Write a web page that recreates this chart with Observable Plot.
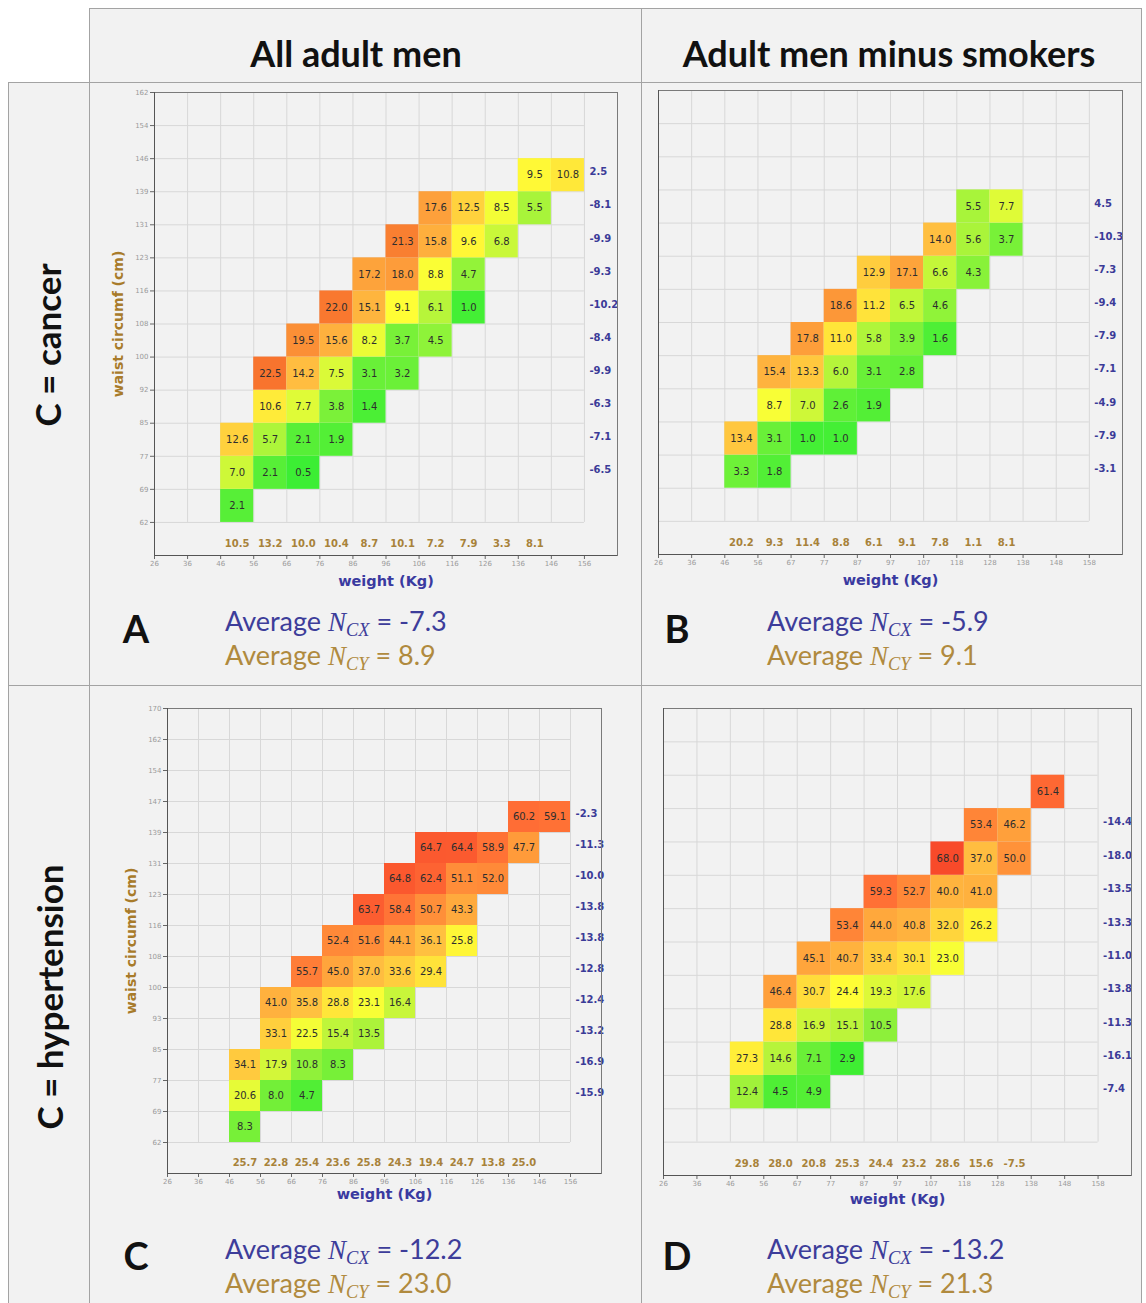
<!DOCTYPE html>
<html><head><meta charset="utf-8">
<script src="https://cdn.jsdelivr.net/npm/d3@7"></script>
<script src="https://cdn.jsdelivr.net/npm/@observablehq/plot@0.6"></script>
<style>
body{margin:0;background:#fff;}
#page{position:relative;width:1146px;height:1303px;overflow:hidden;font-family:Lato,"Open Sans",sans-serif;}
.cell{position:absolute;background:#f2f2f2;border:1px solid #a3a3a3;box-sizing:border-box;}
.lbl{position:absolute;white-space:nowrap;line-height:1;}
.plot{position:absolute;}
.N{font-family:"Liberation Serif","DejaVu Serif",serif;font-style:italic;}
.N sub{font-size:0.68em;vertical-align:-0.28em;}
</style></head><body><div id="page"></div>
<script>
// ---------- data ----------
const colTitles = ["All adult men", "Adult men minus smokers"];
const rowTitles = ["C = cancer", "C = hypertension"];
const panelLetters = ["A", "B", "C", "D"];
const avgNcx = ["-7.3", "-5.9", "-12.2", "-13.2"];
const avgNcy = ["8.9", "9.1", "23.0", "21.3"];

const xLabelsA = ["26","36","46","56","66","76","86","96","106","116","126","136","146","156"];
const yLabelsA = ["62","69","77","85","92","100","108","116","123","131","139","146","154","162"];
const xLabelsB = ["26","36","46","56","67","77","87","97","107","118","128","138","148","158"];
const xLabelsC = ["26","36","46","56","66","76","86","96","106","116","126","136","146","156"];
const yLabelsC = ["62","69","77","85","93","100","108","116","123","131","139","147","154","162","170"];
const xLabelsD = ["26","36","46","56","67","77","87","97","107","118","128","138","148","158"];

// each row: [waist bin index, first weight bin index, values]
const cellsA = [
  [0, 2, [2.1]],
  [1, 2, [7.0, 2.1, 0.5]],
  [2, 2, [12.6, 5.7, 2.1, 1.9]],
  [3, 3, [10.6, 7.7, 3.8, 1.4]],
  [4, 3, [22.5, 14.2, 7.5, 3.1, 3.2]],
  [5, 4, [19.5, 15.6, 8.2, 3.7, 4.5]],
  [6, 5, [22.0, 15.1, 9.1, 6.1, 1.0]],
  [7, 6, [17.2, 18.0, 8.8, 4.7]],
  [8, 7, [21.3, 15.8, 9.6, 6.8]],
  [9, 8, [17.6, 12.5, 8.5, 5.5]],
  [10, 11, [9.5, 10.8]]
];
const ncxA = [null, -6.5, -7.1, -6.3, -9.9, -8.4, -10.2, -9.3, -9.9, -8.1, 2.5];
const ncyA = [null, null, 10.5, 13.2, 10.0, 10.4, 8.7, 10.1, 7.2, 7.9, 3.3, 8.1];

const cellsB = [
  [1, 2, [3.3, 1.8]],
  [2, 2, [13.4, 3.1, 1.0, 1.0]],
  [3, 3, [8.7, 7.0, 2.6, 1.9]],
  [4, 3, [15.4, 13.3, 6.0, 3.1, 2.8]],
  [5, 4, [17.8, 11.0, 5.8, 3.9, 1.6]],
  [6, 5, [18.6, 11.2, 6.5, 4.6]],
  [7, 6, [12.9, 17.1, 6.6, 4.3]],
  [8, 8, [14.0, 5.6, 3.7]],
  [9, 9, [5.5, 7.7]]
];
const ncxB = [null, -3.1, -7.9, -4.9, -7.1, -7.9, -9.4, -7.3, -10.3, 4.5];
const ncyB = [null, null, 20.2, 9.3, 11.4, 8.8, 6.1, 9.1, 7.8, 1.1, 8.1];

const cellsC = [
  [0, 2, [8.3]],
  [1, 2, [20.6, 8.0, 4.7]],
  [2, 2, [34.1, 17.9, 10.8, 8.3]],
  [3, 3, [33.1, 22.5, 15.4, 13.5]],
  [4, 3, [41.0, 35.8, 28.8, 23.1, 16.4]],
  [5, 4, [55.7, 45.0, 37.0, 33.6, 29.4]],
  [6, 5, [52.4, 51.6, 44.1, 36.1, 25.8]],
  [7, 6, [63.7, 58.4, 50.7, 43.3]],
  [8, 7, [64.8, 62.4, 51.1, 52.0]],
  [9, 8, [64.7, 64.4, 58.9, 47.7]],
  [10, 11, [60.2, 59.1]]
];
const ncxC = [null, -15.9, -16.9, -13.2, -12.4, -12.8, -13.8, -13.8, -10.0, -11.3, -2.3];
const ncyC = [null, null, 25.7, 22.8, 25.4, 23.6, 25.8, 24.3, 19.4, 24.7, 13.8, 25.0];

const cellsD = [
  [1, 2, [12.4, 4.5, 4.9]],
  [2, 2, [27.3, 14.6, 7.1, 2.9]],
  [3, 3, [28.8, 16.9, 15.1, 10.5]],
  [4, 3, [46.4, 30.7, 24.4, 19.3, 17.6]],
  [5, 4, [45.1, 40.7, 33.4, 30.1, 23.0]],
  [6, 5, [53.4, 44.0, 40.8, 32.0, 26.2]],
  [7, 6, [59.3, 52.7, 40.0, 41.0]],
  [8, 8, [68.0, 37.0, 50.0]],
  [9, 9, [53.4, 46.2]],
  [10, 11, [61.4]]
];
const ncxD = [null, -7.4, -16.1, -11.3, -13.8, -11.0, -13.3, -13.5, -18.0, -14.4];
const ncyD = [null, null, 29.8, 28.0, 20.8, 25.3, 24.4, 23.2, 28.6, 15.6, -7.5];

// colour ramps (green -> yellow -> red)
const cancerDomain = [0, 3, 6, 9, 14, 18, 22.5];
const hyperDomain = [3, 10, 16, 24, 36, 45, 52, 60, 68];
const cancerRange = ["#33ee33", "#66f038", "#b5f53a", "#ffff35", "#ffbf40", "#fd9c3a", "#f8742e"];
const hyperRange = ["#40ee33", "#88f03a", "#c5f53a", "#ffff35", "#ffc040", "#ffa53c", "#ff8a38", "#ff6e35", "#f84a2a"];

// ---------- layout ----------
const page = document.getElementById("page");
function box(l, t, w, h) {
  const d = document.createElement("div");
  d.className = "cell";
  Object.assign(d.style, {left: l + "px", top: t + "px", width: w + "px", height: h + "px"});
  page.appendChild(d);
}
box(89, 8, 553, 75); box(641, 8, 501, 75);
box(8, 82, 82, 604); box(8, 685, 82, 630);
box(89, 82, 553, 604); box(641, 82, 501, 604);
box(89, 685, 553, 630); box(641, 685, 501, 630);

function label(html, x, y, style, transform) {
  const d = document.createElement("div");
  d.className = "lbl";
  d.innerHTML = html;
  Object.assign(d.style, {left: x + "px", top: y + "px"}, style);
  d.style.transform = transform;
  page.appendChild(d);
  return d;
}
const titleStyle = {fontSize: "36px", fontWeight: "bold", color: "#111"};
label(colTitles[0], 356, 53, titleStyle, "translate(-50%,-50%)");
label(colTitles[1], 889, 53, titleStyle, "translate(-50%,-50%)");
label(rowTitles[0], 47, 345, {fontSize: "35px", fontWeight: "bold", color: "#111"}, "translate(-50%,-50%) rotate(-90deg)");
label(rowTitles[1], 49, 997, {fontSize: "35px", fontWeight: "bold", color: "#111"}, "translate(-50%,-50%) rotate(-90deg)");

const letterPos = [[136, 628], [677, 628], [136, 1255], [677, 1255]];
const avgPos = [[225, 623], [767, 623], [225, 1251], [767, 1251]];
panelLetters.forEach((L, i) => {
  label(L, letterPos[i][0], letterPos[i][1], {fontSize: "38px", fontWeight: "bold", color: "#111"}, "translate(-50%,-50%)");
  label(`Average <span class="N">N<sub>CX</sub></span> = ${avgNcx[i]}`, avgPos[i][0], avgPos[i][1],
    {fontSize: "27px", color: "#3d3d9a"}, "translate(0,-50%)");
  label(`Average <span class="N">N<sub>CY</sub></span> = ${avgNcy[i]}`, avgPos[i][0], avgPos[i][1] + 34,
    {fontSize: "27px", color: "#b08a3e"}, "translate(0,-50%)");
});

// ---------- heatmaps ----------
function heat(cfg) {
  const {cells, ncx, ncy, xLabels, yLabels, nRows, domain, range, showY,
         left, top, width, height, mL, mR, mT, mB, xLabDy} = cfg;
  const data = cells.flatMap(([r, c0, vals]) => vals.map((v, i) => ({row: r, col: c0 + i, v})));
  const rowVals = ncx.map((v, i) => ({row: i, v})).filter(d => d.v != null);
  const colVals = ncy.map((v, i) => ({col: i, v})).filter(d => d.v != null);
  const marks = [
    Plot.ruleX(d3.range(14), {x: d => d, y1: 0, y2: nRows, stroke: "#d8d8d8", strokeWidth: 1}),
    Plot.ruleY(d3.range(nRows + 1), {y: d => d, x1: 0, x2: 13, stroke: "#d8d8d8", strokeWidth: 1}),
    Plot.rect(data, {x1: d => d.col, x2: d => d.col + 1, y1: d => d.row, y2: d => d.row + 1, fill: d => d.v}),
    Plot.text(data, {x: d => d.col + 0.5, y: d => d.row + 0.5, text: d => d.v.toFixed(1),
      fontSize: 10, fill: "#2e2e2e"}),
    Plot.text(rowVals, {x: d => 13, y: d => d.row + 0.5, text: d => d.v.toFixed(1), textAnchor: "start", dx: 5, dy: -3,
      fontSize: 10, fontWeight: "bold", fill: "#3b3b98"}),
    Plot.text(colVals, {x: d => d.col + 0.5, y: d => -0.5, text: d => d.v.toFixed(1), dy: 5,
      fontSize: 10, fontWeight: "bold", fill: "#a8823a"}),
    Plot.axisX({ticks: d3.range(14), tickFormat: i => xLabels[i], tickSize: 4, tickPadding: 2,
      fontSize: 7, stroke: "#666", fill: "#9a9a9a", label: null}),
    Plot.frame({stroke: "#7a7a7a"}),
    Plot.ruleX([0], {stroke: "#555"}),
    Plot.ruleY([-1], {stroke: "#555"}),
    Plot.text(["weight (Kg)"], {frameAnchor: "bottom", dy: xLabDy, text: d => d,
      fontSize: 14.5, fontWeight: "bold", fill: "#3a3aa0"})
  ];
  if (showY) {
    marks.push(Plot.axisY({ticks: d3.range(nRows + 1), tickFormat: i => yLabels[i], tickSize: 4, tickPadding: 2,
      fontSize: 7, stroke: "#666", fill: "#9a9a9a", label: null}));
    marks.push(Plot.text(["waist circumf (cm)"], {frameAnchor: "left", textAnchor: "middle", dx: -36, rotate: -90,
      text: d => d, fontSize: 14, fontWeight: "bold", fill: "#a87b2a"}));
  }
  const svg = Plot.plot({
    width, height, marginLeft: mL, marginRight: mR, marginTop: mT, marginBottom: mB,
    x: {domain: [0, 14], axis: null},
    y: {domain: [-1, nRows], axis: null},
    color: {type: "linear", domain, range, interpolate: "rgb"},
    style: {background: "transparent", fontFamily: "'DejaVu Sans', sans-serif", overflow: "visible"},
    marks
  });
  svg.classList.add("plot");
  svg.style.left = left + "px";
  svg.style.top = top + "px";
  page.appendChild(svg);
}

heat({cells: cellsA, ncx: ncxA, ncy: ncyA, xLabels: xLabelsA, yLabels: yLabelsA, nRows: 13,
  domain: cancerDomain, range: cancerRange, showY: true,
  left: 89, top: 82, width: 552, height: 520, mL: 65, mR: 24, mT: 10, mB: 47, xLabDy: 30});
heat({cells: cellsB, ncx: ncxB, ncy: ncyB, xLabels: xLabelsB, yLabels: null, nRows: 13,
  domain: cancerDomain, range: cancerRange, showY: false,
  left: 641, top: 82, width: 500, height: 520, mL: 17, mR: 19, mT: 8, mB: 48, xLabDy: 30});
heat({cells: cellsC, ncx: ncxC, ncy: ncyC, xLabels: xLabelsC, yLabels: yLabelsC, nRows: 14,
  domain: hyperDomain, range: hyperRange, showY: true,
  left: 89, top: 685, width: 552, height: 530, mL: 78, mR: 40, mT: 23, mB: 42, xLabDy: 25});
heat({cells: cellsD, ncx: ncxD, ncy: ncyD, xLabels: xLabelsD, yLabels: null, nRows: 13,
  domain: hyperDomain, range: hyperRange, showY: false,
  left: 641, top: 685, width: 500, height: 530, mL: 22, mR: 10, mT: 23, mB: 40, xLabDy: 28});
</script>
</body></html>
